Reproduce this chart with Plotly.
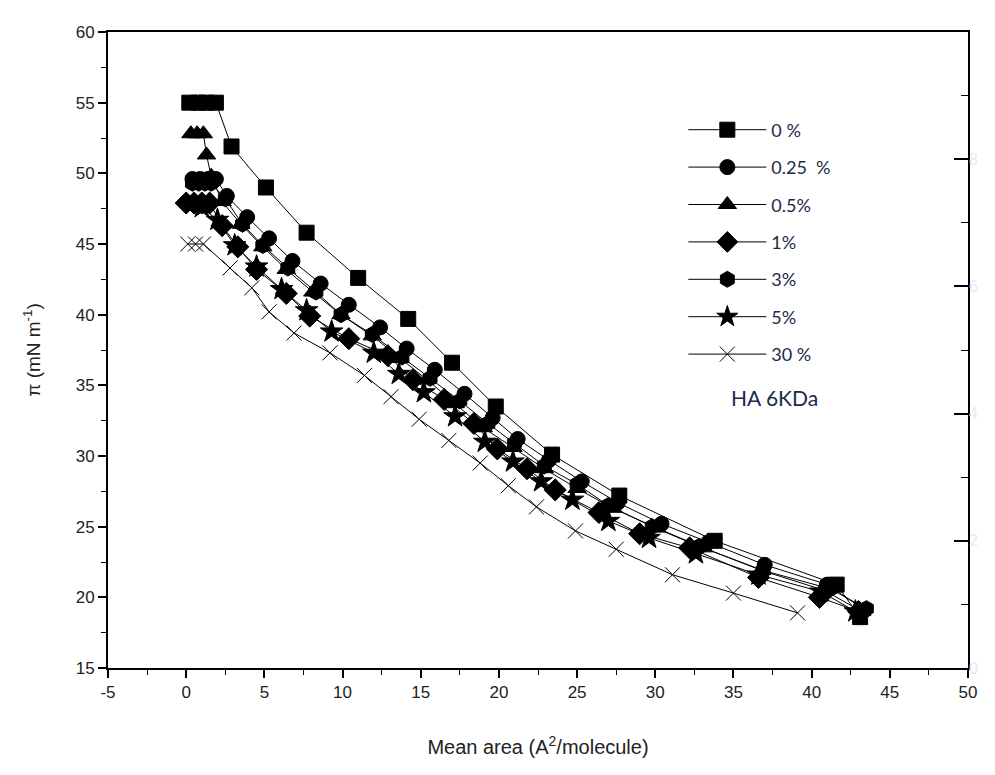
import plotly.graph_objects as go

# ---- data ----
x_0 = [0.2, 0.8, 1.3, 1.9, 2.9, 5.1, 7.7, 11.0, 14.2, 17.0, 19.8, 23.4, 27.7, 33.8, 41.6, 43.1]
y_0 = [55.0, 55.0, 55.0, 55.0, 51.9, 49.0, 45.8, 42.6, 39.7, 36.6, 33.5, 30.1, 27.2, 24.0, 20.9, 18.6]

x_025 = [0.4, 0.9, 1.4, 1.9, 2.6, 3.9, 5.3, 6.8, 8.6, 10.4, 12.4, 14.1, 15.9, 17.8, 19.6, 21.2, 23.2, 25.3, 27.6, 30.4, 33.4, 37.0, 41.0, 43.4]
y_025 = [49.6, 49.6, 49.6, 49.6, 48.4, 46.9, 45.4, 43.8, 42.2, 40.7, 39.1, 37.6, 36.1, 34.4, 32.7, 31.2, 29.7, 28.2, 26.7, 25.2, 23.9, 22.3, 20.9, 19.1]

x_05 = [0.3, 0.7, 1.1, 1.3, 1.6, 2.3, 3.5, 4.9, 6.4, 8.1, 9.9, 11.9, 13.7, 15.4, 17.2, 19.0, 20.9, 22.9, 25.0, 27.3, 30.1, 33.1, 36.8, 40.8, 43.2]
y_05 = [52.8, 52.8, 52.8, 51.3, 49.8, 48.0, 46.4, 44.8, 43.2, 41.6, 40.0, 38.5, 36.9, 35.4, 33.7, 32.0, 30.6, 29.1, 27.7, 26.3, 24.9, 23.5, 21.9, 20.5, 19.0]

x_1 = [0.0, 0.5, 1.0, 1.5, 2.3, 3.3, 4.5, 6.4, 7.9, 10.4, 12.9, 14.5, 16.5, 18.4, 19.9, 21.8, 23.6, 26.4, 29.0, 32.2, 36.6, 40.5, 43.0]
y_1 = [47.9, 47.9, 47.9, 47.9, 46.3, 44.8, 43.2, 41.5, 39.9, 38.3, 37.1, 35.4, 34.0, 32.3, 30.5, 29.1, 27.6, 26.0, 24.5, 23.5, 21.4, 20.0, 19.0]

x_3 = [0.4, 0.8, 1.2, 1.6, 2.5, 3.6, 4.9, 6.5, 8.3, 9.9, 11.9, 13.8, 15.6, 17.5, 19.3, 21.0, 22.9, 25.0, 27.0, 29.8, 32.8, 36.9, 41.2, 43.5]
y_3 = [49.3, 49.3, 49.3, 49.3, 48.2, 46.4, 44.9, 43.3, 41.6, 40.0, 38.6, 37.0, 35.5, 33.9, 32.3, 30.9, 29.3, 28.0, 26.5, 25.0, 23.6, 21.9, 20.6, 19.2]

x_5 = [1.0, 2.0, 3.1, 4.5, 6.1, 7.7, 9.3, 12.0, 13.6, 15.2, 17.2, 19.1, 20.9, 22.7, 24.7, 27.0, 29.6, 32.6, 36.6, 40.6, 42.8]
y_5 = [47.6, 46.7, 44.9, 43.4, 41.8, 40.3, 38.8, 37.3, 35.8, 34.5, 32.8, 31.0, 29.6, 28.2, 26.9, 25.4, 24.2, 23.1, 21.6, 20.4, 19.0]

x_30 = [0.1, 0.6, 1.1, 2.8, 4.2, 5.3, 6.9, 9.2, 11.4, 13.1, 14.9, 16.8, 18.8, 20.6, 22.4, 24.9, 27.5, 31.1, 35.0, 39.1]
y_30 = [45.0, 45.0, 45.0, 43.3, 41.9, 40.2, 38.7, 37.3, 35.7, 34.2, 32.6, 31.1, 29.5, 27.9, 26.4, 24.7, 23.4, 21.6, 20.3, 18.9]

labels = ["0 %", "0.25  %", "0.5%", "1%", "3%", "5%", "30 %"]
series_x = [x_0, x_025, x_05, x_1, x_3, x_5, x_30]
series_y = [y_0, y_025, y_05, y_1, y_3, y_5, y_30]
symbols = ["square", "circle", "triangle-up", "diamond", "hexagon", "star", "x-thin-open"]
sizes = [15, 15, 16, 17, 16, 17, 15]

x_tickvals = [-5, 0, 5, 10, 15, 20, 25, 30, 35, 40, 45, 50]
x_ticktext = ["-5", "0", "5", "10", "15", "20", "25", "30", "35", "40", "45", "50"]
y2_ticks = [0, 2, 4, 6, 8]

fig = go.Figure()
for i, (xs, ys, lab, sym, sz) in enumerate(zip(series_x, series_y, labels, symbols, sizes)):
    fig.add_trace(go.Scatter(
        x=xs, y=ys, mode="lines+markers", name=lab, legendgroup=f"g{i}",
        line=dict(color="black", width=1),
        marker=dict(symbol=sym, size=sz, color="black",
                    line=dict(color="black", width=1)),
    ))

# ghost right axis (faint, from the reference)
fig.add_trace(go.Scatter(x=[None], y=[None], yaxis="y2", showlegend=False))

axis_font = dict(family="Liberation Sans, Arial, sans-serif", size=17, color="#222")
fig.update_layout(
    width=987, height=767,
    margin=dict(l=100, r=27, t=24, b=107),
    paper_bgcolor="white", plot_bgcolor="white",
    showlegend=True,
    legend=dict(x=0.669, y=0.875, xanchor="left", yanchor="top",
                traceorder="grouped", tracegroupgap=11, itemwidth=78,
                font=dict(family="Lato, Open Sans, sans-serif", size=18, color="#1c2a4a"),
                bgcolor="rgba(0,0,0,0)"),
    xaxis=dict(range=[-5, 50], tickvals=x_tickvals, ticktext=x_ticktext,
               ticks="outside", ticklen=8, tickwidth=1.5,
               tickcolor="black", showline=True, linecolor="black", linewidth=2,
               mirror=True, showgrid=False, zeroline=False, tickfont=axis_font,
               minor=dict(dtick=2.5, ticks="outside", ticklen=5, tickwidth=1.2, tickcolor="black"),
               title=dict(text="Mean area (A<sup>2</sup>/molecule)",
                          font=dict(family="Liberation Sans, Arial, sans-serif", size=20, color="#222"),
                          standoff=39)),
    yaxis=dict(range=[15, 60], dtick=5, ticks="outside", ticklen=8, tickwidth=1.5,
               tickcolor="black", showline=True, linecolor="black", linewidth=2,
               mirror=True, showgrid=False, zeroline=False, tickfont=axis_font,
               minor=dict(dtick=2.5, ticks="outside", ticklen=5, tickwidth=1.2, tickcolor="black"),
               title=dict(text="π (mN m<sup>-1</sup>)",
                          font=dict(family="Liberation Sans, Arial, sans-serif", size=19, color="#222"),
                          standoff=30)),
    yaxis2=dict(overlaying="y", side="right", range=[0, 10], tickvals=y2_ticks,
                ticks="inside", ticklen=14, tickwidth=1.5, tickcolor="black",
                showgrid=False, zeroline=False, showline=False,
                tickfont=dict(family="Liberation Sans, Arial, sans-serif", size=16, color="#e3eaf1"),
                minor=dict(dtick=1, ticks="inside", ticklen=7, tickwidth=1.2, tickcolor="black")),
    annotations=[dict(x=0.775, y=0.425, xref="paper", yref="paper", text="HA 6KDa",
                      showarrow=False, xanchor="center", yanchor="middle",
                      font=dict(family="Lato, Open Sans, sans-serif", size=21, color="#1c2a4a"))],
)

fig.write_html("out.html")
